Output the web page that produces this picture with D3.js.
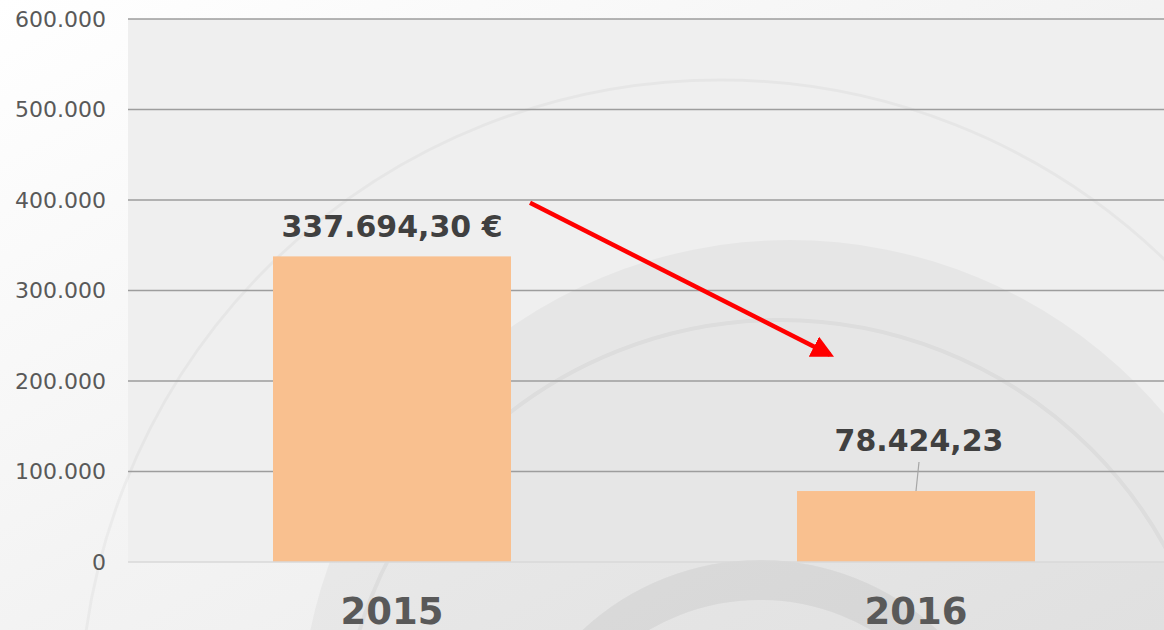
<!DOCTYPE html>
<html>
<head>
    <title>Importe 2015 - 2016</title>
    <script type="text/javascript" src="https://cdnjs.cloudflare.com/ajax/libs/d3/7.8.5/d3.min.js"></script>
    <style>
        body { margin: 0; background: #fff; }
        svg { display: block; }
    </style>
</head>
<body>
<div id="chart"></div>
<script type="text/javascript">
    // chart data
    var years = ["2015", "2016"];
    var values = [337694.30, 78424.23];
    var valueLabels = ["337.694,30 €", "78.424,23"];
    var yTicks = [0, 100000, 200000, 300000, 400000, 500000, 600000];

    var width = 1164, height = 630;
    // careful: "top" is a global in the browser, so use other names
    var plotLeft = 130, plotRight = 1178, plotTop = 19, plotBottom = 562;

    var es = d3.formatLocale({decimal: ",", thousands: ".", grouping: [3], currency: ["", " €"]});
    var fmt = es.format(",");

    var svg = d3.select('#chart').append('svg')
        .attr('width', width)
        .attr('height', height);

    var defs = svg.append('defs');
    var bg = defs.append('linearGradient').attr('id', 'bg')
        .attr('x1', 0).attr('y1', 0).attr('x2', 1).attr('y2', 1);
    bg.append('stop').attr('offset', '0%').attr('stop-color', '#ffffff');
    bg.append('stop').attr('offset', '50%').attr('stop-color', '#f3f3f3');
    bg.append('stop').attr('offset', '100%').attr('stop-color', '#e9e9e9');

    // page background + plot area
    svg.append('rect').attr('width', width).attr('height', height).attr('fill', 'url(#bg)');
    svg.append('rect')
        .attr('x', plotLeft - 2).attr('y', plotTop)
        .attr('width', width - plotLeft + 2).attr('height', plotBottom - plotTop)
        .attr('fill', '#efefef');

    // faint watermark (ball logo behind chart)
    var wm = svg.append('g');
    wm.append('circle').attr('cx', 720).attr('cy', 720).attr('r', 640)
        .attr('fill', 'none').attr('stroke', '#000').attr('stroke-opacity', 0.035).attr('stroke-width', 3);
    wm.append('circle').attr('cx', 790).attr('cy', 730).attr('r', 490)
        .attr('fill', '#000').attr('fill-opacity', 0.035);
    wm.append('circle').attr('cx', 780).attr('cy', 760).attr('r', 440)
        .attr('fill', 'none').attr('stroke', '#000').attr('stroke-opacity', 0.04).attr('stroke-width', 4);
    wm.append('circle').attr('cx', 760).attr('cy', 820).attr('r', 240)
        .attr('fill', 'none').attr('stroke', '#000').attr('stroke-opacity', 0.05).attr('stroke-width', 40);

    var x = d3.scaleBand()
        .domain(years)
        .range([plotLeft, plotRight])
        .paddingInner(0.5458)
        .paddingOuter(0.2729);

    var y = d3.scaleLinear()
        .domain([0, 600000])
        .range([plotBottom, plotTop]);

    // gridlines
    svg.append('g').selectAll('line')
        .data(yTicks.filter(function(d){ return d > 0; }))
        .enter().append('line')
        .attr('x1', plotLeft - 2).attr('x2', width)
        .attr('y1', function(d){ return y(d); })
        .attr('y2', function(d){ return y(d); })
        .attr('stroke', '#9d9d9d')
        .attr('stroke-width', 1.5);

    // y axis labels
    var yAxis = svg.append('g')
        .attr('transform', 'translate(' + (plotLeft - 24) + ',0)')
        .call(d3.axisLeft(y).tickValues(yTicks).tickFormat(fmt).tickSize(0).tickPadding(0));
    yAxis.select('.domain').remove();
    yAxis.selectAll('text')
        .attr('fill', '#595959')
        .style('font-family', 'DejaVu Sans, sans-serif')
        .style('font-size', '22px');

    // bars
    svg.append('g').selectAll('rect')
        .data(values)
        .enter().append('rect')
        .attr('x', function(d, i){ return x(years[i]); })
        .attr('y', function(d){ return y(d); })
        .attr('width', x.bandwidth())
        .attr('height', function(d){ return y(0) - y(d); })
        .attr('fill', '#f9c08f');

    // baseline
    svg.append('line')
        .attr('x1', plotLeft - 2).attr('x2', width)
        .attr('y1', y(0)).attr('y2', y(0))
        .attr('stroke', '#d9d9d9').attr('stroke-width', 1.5);

    // value labels
    var labelY = [y(values[0]) - 19, y(values[1]) - 40];
    svg.append('g').selectAll('text')
        .data(valueLabels)
        .enter().append('text')
        .attr('x', function(d, i){ return x(years[i]) + x.bandwidth() / 2 + (i ? 3 : 0); })
        .attr('y', function(d, i){ return labelY[i]; })
        .attr('text-anchor', 'middle')
        .attr('fill', '#404040')
        .style('font-family', 'DejaVu Sans, sans-serif')
        .style('font-weight', 'bold')
        .style('font-size', '30px')
        .text(function(d){ return d; });

    // leader line for 2016 label
    var cx16 = x(years[1]) + x.bandwidth() / 2;
    svg.append('line')
        .attr('x1', cx16 + 3).attr('y1', y(values[1]) - 29)
        .attr('x2', cx16).attr('y2', y(values[1]))
        .attr('stroke', '#a6a6a6').attr('stroke-width', 1.2);

    // category labels
    svg.append('g').selectAll('text')
        .data(years)
        .enter().append('text')
        .attr('x', function(d){ return x(d) + x.bandwidth() / 2; })
        .attr('y', plotBottom + 62)
        .attr('text-anchor', 'middle')
        .attr('fill', '#595959')
        .style('font-family', 'DejaVu Sans, sans-serif')
        .style('font-weight', 'bold')
        .style('font-size', '37px')
        .text(function(d){ return d; });

    // red trend arrow
    defs.append('marker').attr('id', 'head')
        .attr('viewBox', '0 0 10 10')
        .attr('refX', 8).attr('refY', 5)
        .attr('markerWidth', 5).attr('markerHeight', 5)
        .attr('orient', 'auto')
        .append('path').attr('d', 'M0,0 L10,5 L0,10 Z').attr('fill', '#ff0000');

    var ax1 = x(years[0]) + x.bandwidth() + 19, ay1 = y(397000);
    var ax2 = x(years[1]) + 33, ay2 = y(229000);
    svg.append('line')
        .attr('x1', ax1).attr('y1', ay1)
        .attr('x2', ax2).attr('y2', ay2)
        .attr('stroke', '#ff0000')
        .attr('stroke-width', 4.5)
        .attr('marker-end', 'url(#head)');
</script>
</body>
</html>
